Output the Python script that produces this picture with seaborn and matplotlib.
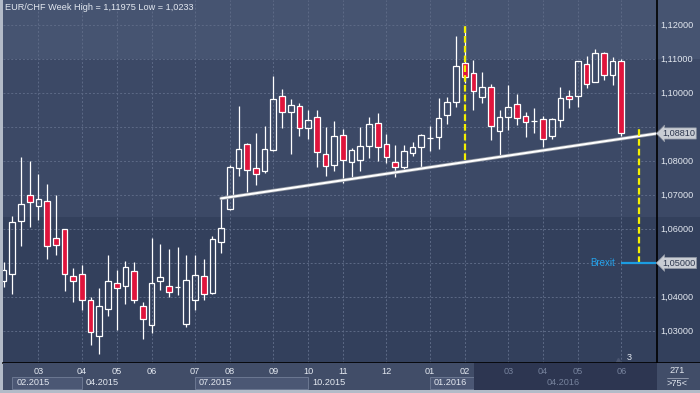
import numpy as np
import pandas as pd
import seaborn as sns
import matplotlib.pyplot as plt
from matplotlib.patches import Rectangle
from matplotlib.transforms import blended_transform_factory

# weekly EUR/CHF candles
opens = [1.0447, 1.0467, 1.0623, 1.0699, 1.0667, 1.0682, 1.0573, 1.0599, 1.0461, 1.0467,
         1.0390, 1.0284, 1.0364, 1.0440, 1.0432, 1.0476, 1.0373, 1.0317, 1.0446, 1.0432,
         1.0429, 1.0320, 1.0390, 1.0461, 1.0413, 1.0561, 1.0660, 1.0779, 1.0849, 1.0779,
         1.0770, 1.0832, 1.0990, 1.0943, 1.0961, 1.0898, 1.0929, 1.0820, 1.0787, 1.0876,
         1.0796, 1.0802, 1.0843, 1.0911, 1.0849, 1.0796, 1.0782, 1.0823, 1.0840, 1.0867,
         1.0870, 1.0934, 1.0973, 1.1087, 1.1058, 1.0987, 1.1017, 1.0887, 1.0929, 1.0967,
         1.0932, 1.0917, 1.0923, 1.0873, 1.0920, 1.0990, 1.0990, 1.1084, 1.1032, 1.1117,
         1.1052, 1.1093]
highs = [1.0503, 1.0638, 1.0811, 1.0800, 1.0762, 1.0732, 1.0700, 1.0600, 1.0485, 1.0494,
         1.0401, 1.0427, 1.0524, 1.0479, 1.0506, 1.0502, 1.0384, 1.0574, 1.0556, 1.0541,
         1.0547, 1.0524, 1.0524, 1.0512, 1.0579, 1.0690, 1.0788, 1.0962, 1.0852, 1.0882,
         1.0903, 1.1050, 1.1012, 1.0982, 1.0970, 1.0950, 1.0949, 1.0899, 1.0918, 1.0894,
         1.0837, 1.0900, 1.0929, 1.0941, 1.0879, 1.0846, 1.0846, 1.0855, 1.0879, 1.0903,
         1.0984, 1.0987, 1.1168, 1.11975, 1.1096, 1.1061, 1.1026, 1.0949, 1.1024, 1.0996,
         1.0943, 1.0955, 1.0932, 1.0926, 1.1017, 1.1008, 1.1094, 1.1108, 1.1129, 1.1120,
         1.1105, 1.1099]
lows = [1.0429, 1.0409, 1.0550, 1.0607, 1.0627, 1.0513, 1.0524, 1.0419, 1.0385, 1.0362,
        1.0260, 1.0233, 1.0345, 1.0303, 1.0380, 1.0383, 1.0277, 1.0293, 1.0422, 1.0401,
        1.0407, 1.0313, 1.0362, 1.0392, 1.0410, 1.0529, 1.0657, 1.0757, 1.0710, 1.0730,
        1.0766, 1.0829, 1.0897, 1.0821, 1.0874, 1.0866, 1.0782, 1.0757, 1.0772, 1.0736,
        1.0754, 1.0772, 1.0808, 1.0799, 1.0793, 1.0754, 1.0776, 1.0814, 1.0776, 1.0829,
        1.0836, 1.0908, 1.0958, 1.1030, 1.0949, 1.0972, 1.0863, 1.0812, 1.0892, 1.0905,
        1.0872, 1.0882, 1.0842, 1.0864, 1.0899, 1.0955, 1.0958, 1.1014, 1.1032, 1.1037,
        1.1023, 1.0873]
closes = [1.0479, 1.0620, 1.0673, 1.0680, 1.0689, 1.0551, 1.0552, 1.0467, 1.0446, 1.0390,
          1.0296, 1.0373, 1.0446, 1.0426, 1.0487, 1.0390, 1.0334, 1.0440, 1.0458, 1.0414,
          1.0429, 1.0449, 1.0464, 1.0410, 1.0570, 1.0602, 1.0782, 1.0834, 1.0773, 1.0761,
          1.0834, 1.0982, 1.0943, 1.0964, 1.0896, 1.0920, 1.0826, 1.0784, 1.0873, 1.0802,
          1.0832, 1.0843, 1.0908, 1.0840, 1.0811, 1.0782, 1.0829, 1.0840, 1.0876, 1.0867,
          1.0926, 1.0973, 1.1079, 1.1046, 1.1005, 1.1017, 1.0902, 1.0929, 1.0958, 1.0926,
          1.0914, 1.0917, 1.0864, 1.0923, 1.0984, 1.0982, 1.1093, 1.1026, 1.1117, 1.1052,
          1.1093, 1.0882]

month_pos = [4, 9, 13, 17, 22, 26, 31, 35, 39, 44, 49, 53, 58, 62, 66, 71]
month_labels = ["03", "04", "05", "06", "07", "08", "09", "10", "11", "12",
                "01", "02", "03", "04", "05", "06"]
quarter_pos = [1, 9, 22, 35, 49, 62, 76]
quarter_labels = ["02.2015", "04.2015", "07.2015", "10.2015", "01.2016", "04.2016"]
price_ticks = [1.03, 1.04, 1.05, 1.06, 1.07, 1.08, 1.09, 1.10, 1.11, 1.12]
hidden_ticks = [1.05, 1.09]  # covered by the price markers

trend_x = [25, 75.1]
trend_y = [1.0690, 1.0881]
last_trend = 1.0881
yellow1_x, yellow1_y = 53, (1.0803, 1.11975)
yellow2_x, yellow2_y = 73, (1.0500, 1.0897)
brexit_level = 1.05
brexit_x = (71, 75.1)

XLIM = (-0.07, 75.1)
YLIM = (1.02059, 1.12735)

sns.set_style("dark")
plt.rcParams["font.family"] = ["Liberation Sans", "DejaVu Sans"]

TOP, MID, BOT = "#465471", "#3c4966", "#33405c"
GRID = "#5d6a86"
TXT = "#e3e8f0"
FS = 6.6

fig = plt.figure(figsize=(7, 3.93), dpi=100, facecolor="#b3bbc8")
ax = fig.add_axes([3 / 700, 30 / 393, 654 / 700, 363 / 393])
ax_r = fig.add_axes([657 / 700, 30 / 393, 43 / 700, 363 / 393])
ax_b = fig.add_axes([3 / 700, 3 / 393, 654 / 700, 27 / 393])
ax_br = fig.add_axes([657 / 700, 3 / 393, 43 / 700, 27 / 393])

for a in (ax, ax_r):
    a.set_ylim(*YLIM)
    a.axhspan(1.11, YLIM[1], color=TOP, lw=0, zorder=0)
    a.axhspan(1.0636, 1.11, color=MID, lw=0, zorder=0)
    a.axhspan(YLIM[0], 1.0636, color=BOT, lw=0, zorder=0)
    a.set_xticks([])
    a.set_yticks([])
    for s in a.spines.values():
        s.set_visible(False)

ax.set_xlim(*XLIM)
ax.hlines(price_ticks, XLIM[0], XLIM[1], colors=GRID, linestyles=(0, (2, 2)), lw=0.7, zorder=1)
ax.vlines(month_pos, YLIM[0], YLIM[1], colors=GRID, linestyles=(0, (2, 2)), lw=0.7, zorder=1)

df = pd.DataFrame({"open": opens, "high": highs, "low": lows, "close": closes})
df["x"] = np.arange(len(df))
df["top"] = df[["open", "close"]].max(axis=1)
df["bot"] = df[["open", "close"]].min(axis=1)
up = df["close"] >= df["open"]

ax.vlines(df["x"], df["top"], df["high"], colors="white", lw=0.9, zorder=3)
ax.vlines(df["x"], df["low"], df["bot"], colors="white", lw=0.9, zorder=3)
ax.bar(df["x"], df["top"] - df["bot"], bottom=df["bot"], width=0.66,
       color=np.where(up, "none", "#e0143c"), edgecolor="white", lw=0.9, zorder=4)

# trend line
sns.lineplot(x=trend_x, y=trend_y, ax=ax, color="#8d939e", lw=2.6, zorder=5)
sns.lineplot(x=trend_x, y=trend_y, ax=ax, color="white", lw=1.5, zorder=6)

ax.vlines(yellow1_x, *yellow1_y, colors="#f4f000", lw=1.6, linestyles=(0, (3, 1.4)), zorder=7)
ax.vlines(yellow2_x, *yellow2_y, colors="#f4f000", lw=1.6, linestyles=(0, (3, 1.4)), zorder=7)
ax.hlines(brexit_level, *brexit_x, colors="#1c9de2", lw=1.6, zorder=7)
ax.text(70.3, brexit_level, "Brexit", color="#24a2ea", fontsize=7, ha="right", va="center")

ax.text(0.003, 0.978, "EUR/CHF Week High = 1,11975 Low = 1,0233", transform=ax.transAxes,
        color=TXT, fontsize=FS, ha="left", va="center")
ax.annotate("3", xy=(71.9, 0.014), xycoords=("data", "axes fraction"),
            color=TXT, fontsize=FS, ha="center", va="center")
ax.plot([70.6], [0.008], marker="^", ms=3, color="#4a5570",
        transform=blended_transform_factory(ax.transData, ax.transAxes))
ax.spines["bottom"].set_visible(True)
ax.spines["bottom"].set_color("black")
ax.spines["bottom"].set_linewidth(1.2)

# right price panel
ax_r.set_xlim(0, 1)
ax_r.spines["left"].set_visible(True)
ax_r.spines["left"].set_color("black")
ax_r.spines["left"].set_linewidth(1.2)
ax_r.spines["bottom"].set_visible(True)
ax_r.spines["bottom"].set_color("black")
ax_r.spines["bottom"].set_linewidth(1.2)
for p in price_ticks:
    if p in hidden_ticks:
        continue
    ax_r.text(0.07, p, f"{p:.5f}".replace(".", ","), color=TXT, fontsize=FS,
              ha="left", va="center")
for lvl in (last_trend, brexit_level):
    ax_r.text(0.12, lvl, f"{lvl:.5f}".replace(".", ","), color="#2d374e", fontsize=FS,
              ha="left", va="center", zorder=5,
              bbox=dict(boxstyle="larrow,pad=0.12", fc="#c9cdd4", ec="#8e95a2", lw=0.5))

# bottom time axis
ax_b.set_xlim(*XLIM)
ax_b.set_ylim(0, 1)
ax_b.set_facecolor("#414d68")
ax_b.set_xticks([])
ax_b.set_yticks([])
for s in ax_b.spines.values():
    s.set_visible(False)
for i, lab in enumerate(quarter_labels):
    x0, x1 = quarter_pos[i], quarter_pos[i + 1]
    if i % 2 == 0:
        ax_b.add_patch(Rectangle((x0, 0.02), x1 - x0, 0.46, fc="#4b5774", ec="#6c7892", lw=0.7, zorder=1))
    ax_b.text(x0 + 0.45, 0.26, lab, color=TXT if x0 < 54 else "#76829c",
              fontsize=FS, ha="left", va="center", zorder=3)
ax_b.add_patch(Rectangle((54.1, 0), XLIM[1] - 54.1, 1, fc="#2d3651", lw=0, zorder=2))
for pos, lab in zip(month_pos, month_labels):
    ax_b.text(pos, 0.70, lab, color=TXT if pos < 54 else "#76829c",
              fontsize=FS, ha="center", va="center", zorder=3)

ax_br.set_facecolor("#414d68")
ax_br.set_xlim(0, 1)
ax_br.set_ylim(0, 1)
ax_br.set_xticks([])
ax_br.set_yticks([])
for s in ax_br.spines.values():
    s.set_visible(False)
ax_br.text(0.47, 0.72, "271", color=TXT, fontsize=FS, ha="center", va="center")
ax_br.plot([0.24, 0.72], [0.45, 0.45], color="#9aa3b5", lw=0.6)
ax_br.text(0.47, 0.25, ">75<", color=TXT, fontsize=FS, ha="center", va="center")

fig.savefig("out.png", dpi=100, facecolor=fig.get_facecolor())
